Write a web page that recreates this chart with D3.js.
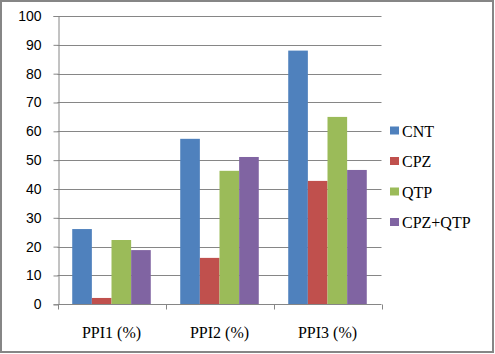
<!DOCTYPE html>
<html><head><meta charset="utf-8">
<script src="https://cdn.jsdelivr.net/npm/d3@7"></script>
<style>body{margin:0;background:#fff}svg{display:block}
.serif{font-family:"Liberation Serif","Times New Roman",serif;font-size:16px}
.sans{font-family:"Liberation Sans",Arial,sans-serif;font-size:14px}
</style>
</head><body>
<script>
const categories = ["PPI1 (%)", "PPI2 (%)", "PPI3 (%)"];
const seriesNames = ["CNT", "CPZ", "QTP", "CPZ+QTP"];
const CNT = [26.1, 57.4, 88.0];
const CPZ = [2.2, 16.1, 42.8];
const QTP = [22.3, 46.3, 65.0];
const CPZ_QTP = [18.8, 51.1, 46.6];
const yTicks = [0, 10, 20, 30, 40, 50, 60, 70, 80, 90, 100];
const colors = ["#4F81BD", "#C0504D", "#9BBB59", "#8064A2"];
const seriesValues = [CNT, CPZ, QTP, CPZ_QTP];

const W = 495, H = 354;
const m = {left: 57.5, right: 381.5, top: 16, bottom: 304.3};
const svg = d3.select("body").append("svg").attr("width", W).attr("height", H);
svg.append("rect").attr("x", 1).attr("y", 1).attr("width", 492).attr("height", 351)
  .attr("fill", "#fff").attr("stroke", "#868686").attr("stroke-width", 2);

const x = d3.scaleBand().domain(categories).range([m.left, m.right]);
const y = d3.scaleLinear().domain([0, 100]).range([m.bottom, m.top]);
const bw = x.bandwidth() / 5.5;
const x1 = d3.scaleBand().domain(seriesNames).range([0.75 * bw, 4.75 * bw]);

svg.append("g").selectAll("line").data(yTicks.filter(d => d > 0)).join("line")
  .attr("x1", m.left).attr("x2", m.right)
  .attr("y1", d => Math.round(y(d)) + 0.5).attr("y2", d => Math.round(y(d)) + 0.5)
  .attr("stroke", "#868686").attr("stroke-width", 1);

seriesNames.forEach((s, i) => {
  svg.append("g").selectAll("rect").data(seriesValues[i]).join("rect")
    .attr("x", (d, j) => x(categories[j]) + x1(s))
    .attr("width", x1.bandwidth())
    .attr("y", d => y(d))
    .attr("height", d => y(0) - y(d))
    .attr("fill", colors[i]);
});

const yAxis = d3.axisLeft(y).tickValues(yTicks).tickSize(5).tickPadding(12).tickFormat(d3.format("d"));
const gy = svg.append("g").attr("transform", `translate(${Math.round(m.left) + 0.5},0)`).call(yAxis);
gy.attr("font-family", null).attr("font-size", null);
gy.select(".domain").attr("stroke", "#868686");
gy.selectAll(".tick line").attr("stroke", "#868686");
gy.selectAll(".tick text").attr("class", "sans").attr("fill", "#000");

const gx = svg.append("g").attr("transform", `translate(0,${Math.round(m.bottom) + 0.5})`);
gx.append("line").attr("x1", m.left).attr("x2", m.right).attr("stroke", "#868686");
const bounds = [m.left, ...categories.map(c => x(c) + x.bandwidth())];
gx.selectAll("line.tk").data(bounds).join("line").attr("class", "tk")
  .attr("x1", d => Math.round(d) + 0.5).attr("x2", d => Math.round(d) + 0.5)
  .attr("y1", 0).attr("y2", 5).attr("stroke", "#868686");
gx.selectAll("text").data(categories).join("text")
  .attr("class", "serif")
  .attr("x", d => x(d) + x.bandwidth() / 2).attr("y", 33)
  .attr("text-anchor", "middle")
  .text(d => d);

const lg = svg.append("g");
seriesNames.forEach((s, i) => {
  const cy = 131 + i * 30.5;
  lg.append("rect").attr("x", 390).attr("y", cy - 4.5).attr("width", 9).attr("height", 8).attr("fill", colors[i]);
  lg.append("text").attr("class", "serif").attr("x", 402).attr("y", cy + 5.5)
    .text(s);
});
</script>
</body></html>
